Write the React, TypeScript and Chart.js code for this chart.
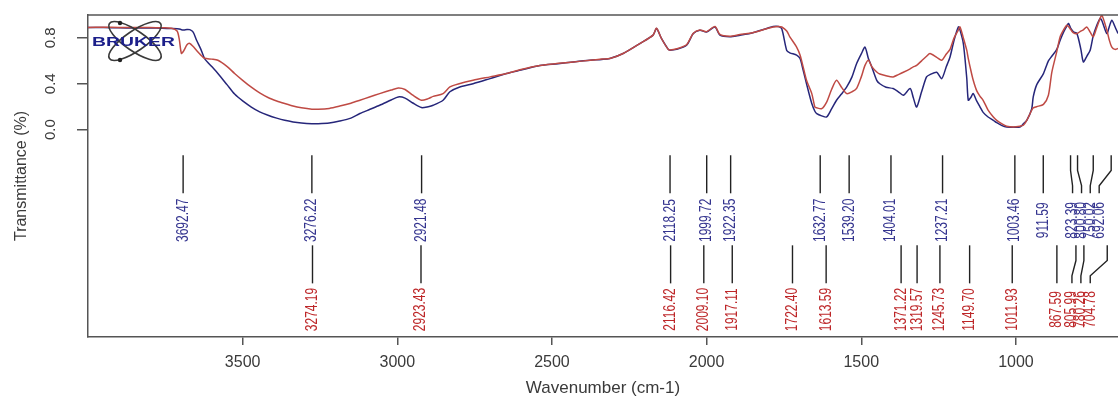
import React, { useEffect, useRef } from "react";
import { Chart, registerables } from "chart.js";

Chart.register(...registerables);

// ---- data ----
const WAVENUMBERS = [
  4000, 3950, 3900, 3850, 3800, 3760, 3730, 3712, 3705, 3698, 3690, 3680, 3671, 3660, 3649, 3635, 3623, 3600, 3580, 3550,
  3526, 3500, 3472, 3445, 3418, 3390, 3364, 3337, 3310, 3276, 3256, 3220, 3186, 3150, 3121, 3090, 3057, 3020, 2997, 2975,
  2950, 2922, 2900, 2884, 2852, 2830, 2800, 2755, 2700, 2647, 2600, 2539, 2480, 2431, 2377, 2339, 2313, 2270, 2216, 2173,
  2162, 2146, 2124, 2118, 2097, 2065, 2043, 2022, 2000, 1973, 1957, 1925, 1892, 1860, 1806, 1785, 1768, 1757, 1741, 1731,
  1709, 1698, 1688, 1677, 1660, 1650, 1644, 1628, 1612, 1596, 1580, 1564, 1547, 1530, 1515, 1500, 1488, 1477, 1466, 1450,
  1440, 1420, 1397, 1380, 1364, 1342, 1332, 1321, 1305, 1289, 1278, 1256, 1240, 1225, 1213, 1200, 1186, 1181, 1170, 1159,
  1154, 1146, 1138, 1127, 1116, 1106, 1090, 1073, 1062, 1045, 1030, 1008, 987, 976, 965, 949, 944, 933, 911, 895,
  884, 868, 857, 846, 836, 830, 822, 814, 803, 790, 782, 771, 760, 750, 740, 728, 722, 706, 698, 690,
  680, 670,
];

const SAMPLE_BLUE = [
  0.890, 0.890, 0.888, 0.887, 0.886, 0.885, 0.882, 0.880, 0.878, 0.872, 0.870, 0.874, 0.872, 0.850, 0.780, 0.700, 0.620, 0.550, 0.490, 0.390,
  0.310, 0.250, 0.197, 0.155, 0.125, 0.100, 0.081, 0.067, 0.058, 0.052, 0.052, 0.058, 0.075, 0.100, 0.140, 0.175, 0.212, 0.258, 0.285, 0.275,
  0.232, 0.192, 0.200, 0.212, 0.256, 0.330, 0.370, 0.400, 0.445, 0.489, 0.520, 0.560, 0.575, 0.590, 0.605, 0.612, 0.620, 0.664, 0.751, 0.824,
  0.882, 0.795, 0.700, 0.693, 0.700, 0.736, 0.838, 0.867, 0.852, 0.896, 0.824, 0.810, 0.824, 0.838, 0.882, 0.900, 0.900, 0.880, 0.690, 0.670,
  0.650, 0.620, 0.520, 0.400, 0.227, 0.160, 0.140, 0.120, 0.110, 0.180, 0.256, 0.310, 0.372, 0.460, 0.576, 0.660, 0.720, 0.620, 0.547, 0.430,
  0.400, 0.370, 0.358, 0.330, 0.300, 0.358, 0.280, 0.197, 0.330, 0.460, 0.480, 0.500, 0.445, 0.550, 0.634, 0.780, 0.896, 0.870, 0.751, 0.450,
  0.256, 0.280, 0.314, 0.250, 0.197, 0.150, 0.110, 0.081, 0.060, 0.035, 0.023, 0.020, 0.023, 0.050, 0.081, 0.180, 0.285, 0.390, 0.489, 0.600,
  0.640, 0.700, 0.780, 0.850, 0.900, 0.926, 0.880, 0.852, 0.840, 0.700, 0.590, 0.640, 0.693, 0.820, 0.900, 0.970, 0.950, 0.838, 0.900, 0.955,
  0.900, 0.838,
];

const SAMPLE_RED = [
  0.892, 0.893, 0.892, 0.891, 0.890, 0.888, 0.885, 0.860, 0.790, 0.665, 0.690, 0.740, 0.752, 0.725, 0.690, 0.650, 0.622, 0.615, 0.605, 0.550,
  0.490, 0.430, 0.370, 0.320, 0.280, 0.250, 0.227, 0.205, 0.190, 0.178, 0.177, 0.185, 0.205, 0.230, 0.256, 0.285, 0.314, 0.345, 0.363, 0.350,
  0.300, 0.256, 0.270, 0.290, 0.314, 0.372, 0.400, 0.430, 0.460, 0.489, 0.525, 0.560, 0.578, 0.590, 0.605, 0.615, 0.620, 0.664, 0.751, 0.824,
  0.885, 0.795, 0.700, 0.695, 0.705, 0.740, 0.840, 0.870, 0.855, 0.900, 0.830, 0.815, 0.830, 0.840, 0.880, 0.895, 0.900, 0.895, 0.860, 0.810,
  0.720, 0.650, 0.547, 0.430, 0.314, 0.197, 0.190, 0.183, 0.240, 0.350, 0.430, 0.370, 0.314, 0.330, 0.360, 0.460, 0.560, 0.605, 0.550, 0.503,
  0.485, 0.470, 0.460, 0.480, 0.500, 0.530, 0.547, 0.560, 0.600, 0.640, 0.664, 0.630, 0.605, 0.660, 0.700, 0.800, 0.870, 0.896, 0.800, 0.693,
  0.620, 0.520, 0.430, 0.340, 0.290, 0.256, 0.170, 0.110, 0.081, 0.050, 0.030, 0.023, 0.030, 0.038, 0.080, 0.169, 0.190, 0.200, 0.220, 0.300,
  0.500, 0.680, 0.810, 0.870, 0.910, 0.900, 0.870, 0.845, 0.838, 0.860, 0.870, 0.896, 0.850, 0.810, 0.880, 0.970, 0.998, 0.867, 0.780, 0.720,
  0.700, 0.707,
];

const X_TICKS = [3500, 3000, 2500, 2000, 1500, 1000];
const Y_TICKS = [0.0, 0.4, 0.8];

const PEAKS_BLUE = [
  3692.47, 3276.22, 2921.48, 2118.25, 1999.72, 1922.35, 1632.77, 1539.2, 1404.01, 1237.21, 1003.46, 911.59, 823.39, 800.8,
  750.02, 692.06,
];
const PEAKS_RED = [
  3274.19, 2923.43, 2116.42, 2009.1, 1917.11, 1722.4, 1613.59, 1371.22, 1319.57, 1245.73, 1149.7, 1011.93, 867.59, 805.99,
  780.26, 704.78,
];
// label nudges in px for crowded labels (layout only)
const SHIFT_BLUE = [0, 0, 0, 0, 0, 0, 0, 0, 0, 0, 0, 0, 2, 4, -3, -12];
const SHIFT_RED = [0, 0, 0, 0, 0, 0, 0, 0, 0, 0, 0, 0, 0, -4, -3, -17];

// annotation levels in axis units (layout)
const BLUE_LINE = [-0.224, -0.556];
const BLUE_TEXT = -0.792;
const RED_LINE = [-1.01, -1.342];
const RED_TEXT = -1.57;

const FONT = "'Liberation Sans', Arial, Helvetica, sans-serif";
const AXIS_COLOR = "#555555";
const TEXT_COLOR = "#3a3a3a";
const BLUE = "#26267a";
const RED = "#bf4a44";
const BLUE_LABEL = "#34348f";
const RED_LABEL = "#bd2628";

function drawPeakRow(ctx: any, x: any, y: any, peaks: number[], shifts: number[], line: number[], textLevel: number, color: string) {
  const y0 = y.getPixelForValue(line[0]);
  const y1 = y.getPixelForValue(line[1]);
  const ty = y.getPixelForValue(textLevel);
  peaks.forEach((p, i) => {
    const px = x.getPixelForValue(p);
    const lx = px + shifts[i];
    ctx.strokeStyle = "#222222";
    ctx.lineWidth = 1.4;
    ctx.beginPath();
    ctx.moveTo(px, y0);
    if (shifts[i] !== 0) {
      ctx.lineTo(px, y0 + (y1 - y0) * 0.4);
      ctx.lineTo(lx, y0 + (y1 - y0) * 0.8);
      ctx.lineTo(lx, y1);
    } else {
      ctx.lineTo(px, y1);
    }
    ctx.stroke();
    ctx.save();
    ctx.translate(lx, ty);
    ctx.rotate(-Math.PI / 2);
    ctx.scale(1, 1.35);
    ctx.fillStyle = color;
    ctx.font = `12px ${FONT}`;
    ctx.textAlign = "center";
    ctx.textBaseline = "middle";
    ctx.fillText(p.toFixed(2), 0, 0);
    ctx.restore();
  });
}

const overlay = {
  id: "overlay",
  afterDraw(chart: any) {
    const { ctx, chartArea } = chart;
    const x = chart.scales.x;
    const y = chart.scales.y;
    ctx.save();
    // top frame line
    ctx.strokeStyle = AXIS_COLOR;
    ctx.lineWidth = 1.5;
    ctx.beginPath();
    ctx.moveTo(chartArea.left, chartArea.top);
    ctx.lineTo(chartArea.right, chartArea.top);
    ctx.stroke();

    // rotated y tick labels
    ctx.fillStyle = TEXT_COLOR;
    ctx.font = `15px ${FONT}`;
    ctx.textAlign = "center";
    ctx.textBaseline = "middle";
    Y_TICKS.forEach((v) => {
      const py = y.getPixelForValue(v);
      ctx.save();
      ctx.translate(51, py);
      ctx.rotate(-Math.PI / 2);
      ctx.fillText(v.toFixed(1), 0, 0);
      ctx.restore();
    });

    // peak annotations
    drawPeakRow(ctx, x, y, PEAKS_BLUE, SHIFT_BLUE, BLUE_LINE, BLUE_TEXT, BLUE_LABEL);
    drawPeakRow(ctx, x, y, PEAKS_RED, SHIFT_RED, RED_LINE, RED_TEXT, RED_LABEL);

    // Bruker logo
    const cx = 135;
    const cy = 41;
    ctx.strokeStyle = "#3a3a3a";
    ctx.lineWidth = 1.6;
    [0.6, -0.6].forEach((a) => {
      ctx.beginPath();
      ctx.ellipse(cx, cy, 31, 10, a, 0, Math.PI * 2);
      ctx.stroke();
    });
    ctx.fillStyle = "#222222";
    [[120, 23], [120, 60]].forEach(([dx, dy]) => {
      ctx.beginPath();
      ctx.arc(dx, dy, 2.2, 0, Math.PI * 2);
      ctx.fill();
    });
    ctx.save();
    ctx.translate(92, 42.5);
    ctx.scale(1.55, 1.05);
    ctx.font = `bold 12.5px ${FONT}`;
    ctx.fillStyle = "#1c1f8a";
    ctx.textAlign = "left";
    ctx.textBaseline = "middle";
    ctx.fillText("BRUKER", 0, 0);
    ctx.restore();

    ctx.restore();
  },
};

export default function App() {
  const canvasRef = useRef<HTMLCanvasElement | null>(null);

  useEffect(() => {
    const canvas = canvasRef.current;
    if (!canvas) return;
    const chart = new Chart(canvas, {
      type: "line",
      data: {
        datasets: [
          {
            label: "Sample 1",
            data: WAVENUMBERS.map((w, i) => ({ x: w, y: SAMPLE_RED[i] })),
            borderColor: RED,
            borderWidth: 1.5,
            pointRadius: 0,
            tension: 0.25,
            fill: false,
          },
          {
            label: "Sample 2",
            data: WAVENUMBERS.map((w, i) => ({ x: w, y: SAMPLE_BLUE[i] })),
            borderColor: BLUE,
            borderWidth: 1.5,
            pointRadius: 0,
            tension: 0.25,
            fill: false,
          },
        ],
      },
      options: {
        responsive: false,
        maintainAspectRatio: false,
        devicePixelRatio: 1,
        animation: false,
        events: [],
        layout: { padding: { top: 15, right: 0, left: 0, bottom: 0 } },
        plugins: { legend: { display: false }, tooltip: { enabled: false }, title: { display: false } },
        scales: {
          x: {
            type: "linear",
            reverse: true,
            min: 670,
            max: 4000,
            afterBuildTicks: (scale: any) => {
              scale.ticks = X_TICKS.map((v) => ({ value: v }));
            },
            afterFit: (scale: any) => {
              scale.height = 60;
            },
            border: { display: true, color: AXIS_COLOR, width: 1.5 },
            grid: { drawOnChartArea: false, drawTicks: true, tickLength: 8, color: AXIS_COLOR, lineWidth: 1.5 },
            ticks: {
              color: TEXT_COLOR,
              font: { family: FONT, size: 16 },
              padding: 8,
              maxRotation: 0,
              autoSkip: false,
              callback: (v: any) => String(v),
            },
            title: {
              display: true,
              text: "Wavenumber (cm-1)",
              color: TEXT_COLOR,
              font: { family: FONT, size: 17, lineHeight: 1 },
              padding: { top: 0, bottom: 0 },
            },
          },
          y: {
            type: "linear",
            min: -1.81,
            max: 1.0,
            afterBuildTicks: (scale: any) => {
              scale.ticks = Y_TICKS.map((v) => ({ value: v }));
            },
            afterFit: (scale: any) => {
              scale.width = 88;
            },
            border: { display: true, color: AXIS_COLOR, width: 1.5 },
            grid: { drawOnChartArea: false, drawTicks: true, tickLength: 11, color: AXIS_COLOR, lineWidth: 1.5 },
            ticks: { display: false },
            title: {
              display: true,
              text: "Transmittance (%)",
              color: TEXT_COLOR,
              font: { family: FONT, size: 16, lineHeight: 1 },
              padding: { top: 14, bottom: 0 },
            },
          },
        },
      },
      plugins: [overlay],
    });
    return () => chart.destroy();
  }, []);

  return (
    <div style={{ position: "absolute", left: 0, top: 0, width: 1118, height: 397, background: "#ffffff" }}>
      <canvas ref={canvasRef} width={1118} height={397} style={{ display: "block" }} />
    </div>
  );
}
